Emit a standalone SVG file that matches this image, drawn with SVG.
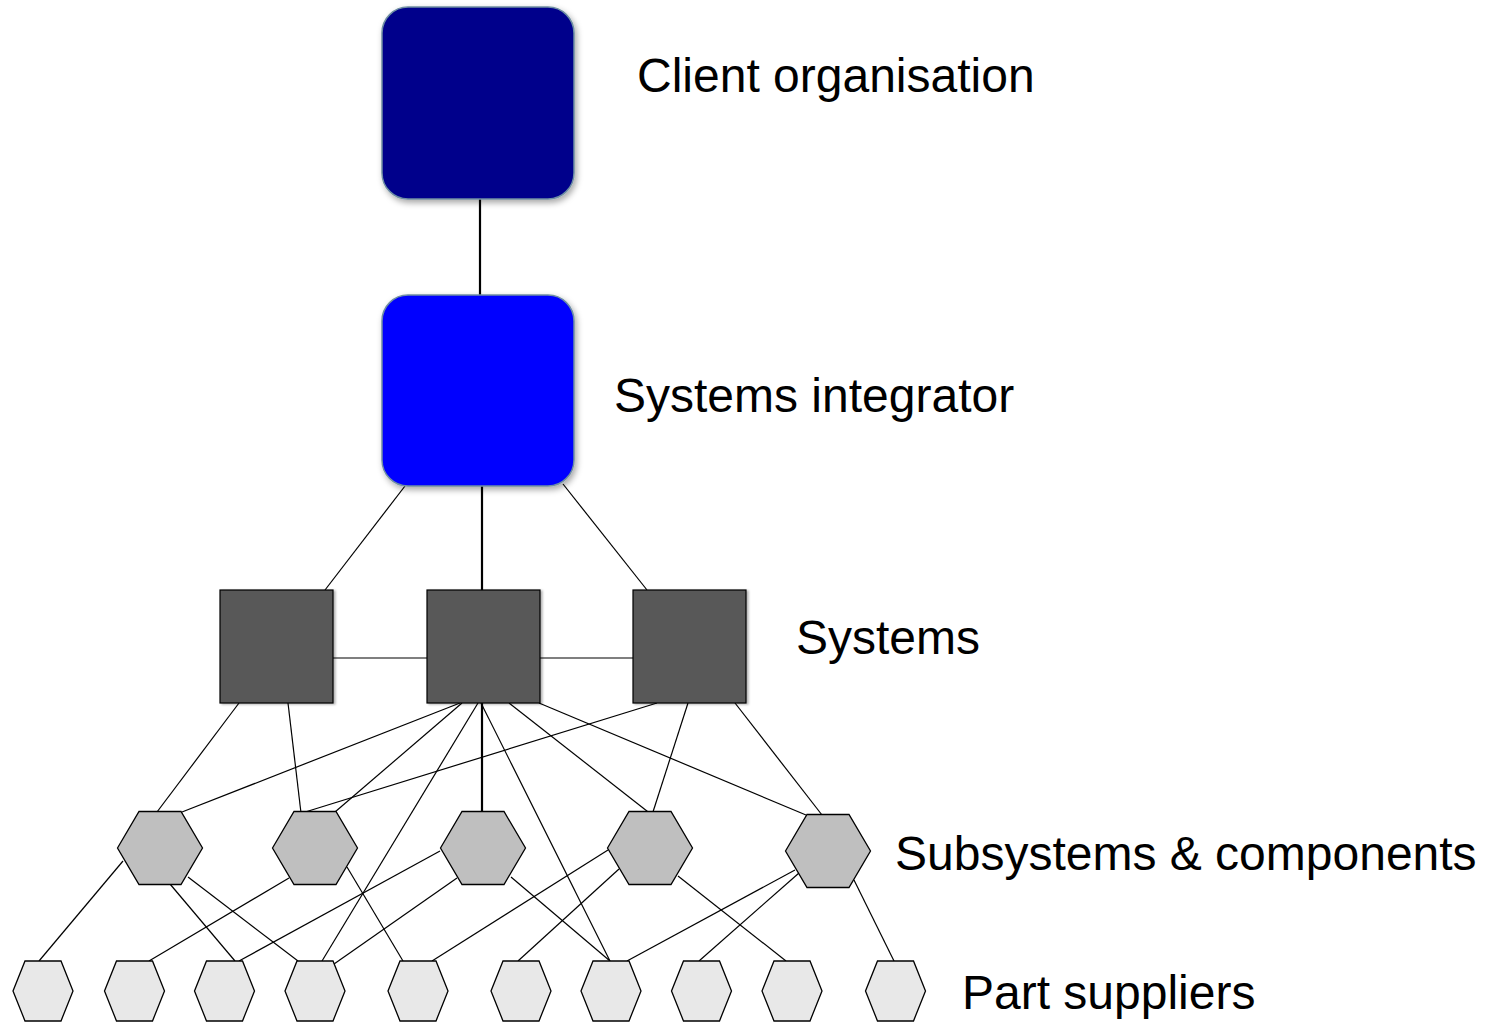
<svg xmlns="http://www.w3.org/2000/svg" width="1491" height="1022" viewBox="0 0 1491 1022">
  <defs>
    <filter id="soft-shadow" x="-20%" y="-20%" width="140%" height="140%">
      <feDropShadow dx="2" dy="3" stdDeviation="3" flood-color="#000" flood-opacity="0.35"/>
    </filter>
    <filter id="edge-shadow" x="-10%" y="-10%" width="120%" height="120%">
      <feDropShadow dx="2" dy="1" stdDeviation="0.8" flood-color="#000" flood-opacity="0.3"/>
    </filter>
    <polygon id="sub-hex" points="-42.5,0 -21,-36.5 21,-36.5 42.5,0 21,36.5 -21,36.5"/>
    <polygon id="part-hex" points="-30,0 -18,-30 18,-30 30,0 18,30 -18,30"/>
  </defs>
  <style>
    .label { font-family: "Liberation Sans", Arial, sans-serif; font-size: 48px; fill: #000; }
    .org { stroke: #6f8fa3; stroke-width: 1.5; filter: url(#soft-shadow); }
    .system { fill: #595959; stroke: #000; stroke-width: 1.2; filter: url(#edge-shadow); }
    .sub { fill: #bfbfbf; stroke: #000; stroke-width: 1.3; }
    .part { fill: #e8e8e8; stroke: #000; stroke-width: 1.3; }
    .links line { stroke: #000; stroke-width: 1.2; }
    .links line.thick { stroke-width: 2.2; }
  </style>
  <rect width="1491" height="1022" fill="#fff"/>

  <!-- connectors -->
  <g id="connectors" class="links">
    <line class="thick" x1="480" y1="199" x2="480" y2="295"/>
    <!-- integrator to systems -->
    <line x1="405" y1="486" x2="325" y2="590"/>
    <line class="thick" x1="482" y1="486" x2="482" y2="590"/>
    <line x1="563" y1="484" x2="647" y2="590"/>
    <!-- between systems -->
    <line x1="333" y1="658" x2="427" y2="658"/>
    <line x1="540" y1="658" x2="633" y2="658"/>
    <!-- systems to subsystems -->
    <line x1="239" y1="703" x2="157" y2="812"/>
    <line x1="288" y1="703" x2="301" y2="813"/>
    <line x1="460" y1="703" x2="182" y2="812"/>
    <line x1="462" y1="703" x2="335" y2="812"/>
    <line class="thick" x1="482" y1="703" x2="482" y2="812"/>
    <line x1="509" y1="703" x2="652" y2="815"/>
    <line x1="539" y1="703" x2="806" y2="815"/>
    <line x1="657" y1="703" x2="302" y2="813"/>
    <line x1="688" y1="703" x2="652" y2="815"/>
    <line x1="735" y1="703" x2="822" y2="815"/>
    <!-- systems straight to part suppliers -->
    <line x1="478" y1="703" x2="322" y2="961"/>
    <line x1="481" y1="703" x2="610" y2="961"/>
    <!-- subsystems to part suppliers -->
    <line x1="123" y1="861" x2="39" y2="961"/>
    <line x1="170" y1="884" x2="235" y2="961"/>
    <line x1="188" y1="877" x2="298" y2="961"/>
    <line x1="289" y1="878" x2="149" y2="961"/>
    <line x1="347" y1="867" x2="403" y2="961"/>
    <line x1="440" y1="851" x2="239" y2="961"/>
    <line x1="457" y1="878" x2="334" y2="964"/>
    <line x1="511" y1="877" x2="610" y2="961"/>
    <line x1="608" y1="850" x2="432" y2="961"/>
    <line x1="619" y1="869" x2="518" y2="961"/>
    <line x1="678" y1="876" x2="786" y2="961"/>
    <line x1="795" y1="870" x2="627" y2="961"/>
    <line x1="799" y1="873" x2="699" y2="961"/>
    <line x1="854" y1="880" x2="894" y2="961"/>
  </g>

  <!-- top tiers -->
  <g id="client-organisation">
    <rect class="org" x="382" y="7" width="192" height="192" rx="26" fill="#00008b"/>
  </g>
  <g id="systems-integrator">
    <rect class="org" x="382" y="295" width="192" height="191" rx="26" fill="#0000ff"/>
  </g>

  <!-- systems -->
  <g id="system-1"><rect class="system" x="220" y="590" width="113" height="113"/></g>
  <g id="system-2"><rect class="system" x="427" y="590" width="113" height="113"/></g>
  <g id="system-3"><rect class="system" x="633" y="590" width="113" height="113"/></g>

  <!-- subsystems & components -->
  <g id="subsystem-1"><use href="#sub-hex" class="sub" x="160" y="848"/></g>
  <g id="subsystem-2"><use href="#sub-hex" class="sub" x="315" y="848"/></g>
  <g id="subsystem-3"><use href="#sub-hex" class="sub" x="483" y="848"/></g>
  <g id="subsystem-4"><use href="#sub-hex" class="sub" x="650" y="848"/></g>
  <g id="subsystem-5"><use href="#sub-hex" class="sub" x="828" y="851"/></g>

  <!-- part suppliers -->
  <g id="part-1"><use href="#part-hex" class="part" x="43" y="991"/></g>
  <g id="part-2"><use href="#part-hex" class="part" x="134.5" y="991"/></g>
  <g id="part-3"><use href="#part-hex" class="part" x="224.5" y="991"/></g>
  <g id="part-4"><use href="#part-hex" class="part" x="315" y="991"/></g>
  <g id="part-5"><use href="#part-hex" class="part" x="418" y="991"/></g>
  <g id="part-6"><use href="#part-hex" class="part" x="521" y="991"/></g>
  <g id="part-7"><use href="#part-hex" class="part" x="611" y="991"/></g>
  <g id="part-8"><use href="#part-hex" class="part" x="701.5" y="991"/></g>
  <g id="part-9"><use href="#part-hex" class="part" x="792" y="991"/></g>
  <g id="part-10"><use href="#part-hex" class="part" x="895.5" y="991"/></g>

  <!-- tier labels -->
  <g id="labels">
    <text class="label" x="637" y="92">Client organisation</text>
    <text class="label" x="614" y="412">Systems integrator</text>
    <text class="label" x="796" y="654">Systems</text>
    <text class="label" x="895" y="870">Subsystems &amp; components</text>
    <text class="label" x="962" y="1009">Part suppliers</text>
  </g>
</svg>
